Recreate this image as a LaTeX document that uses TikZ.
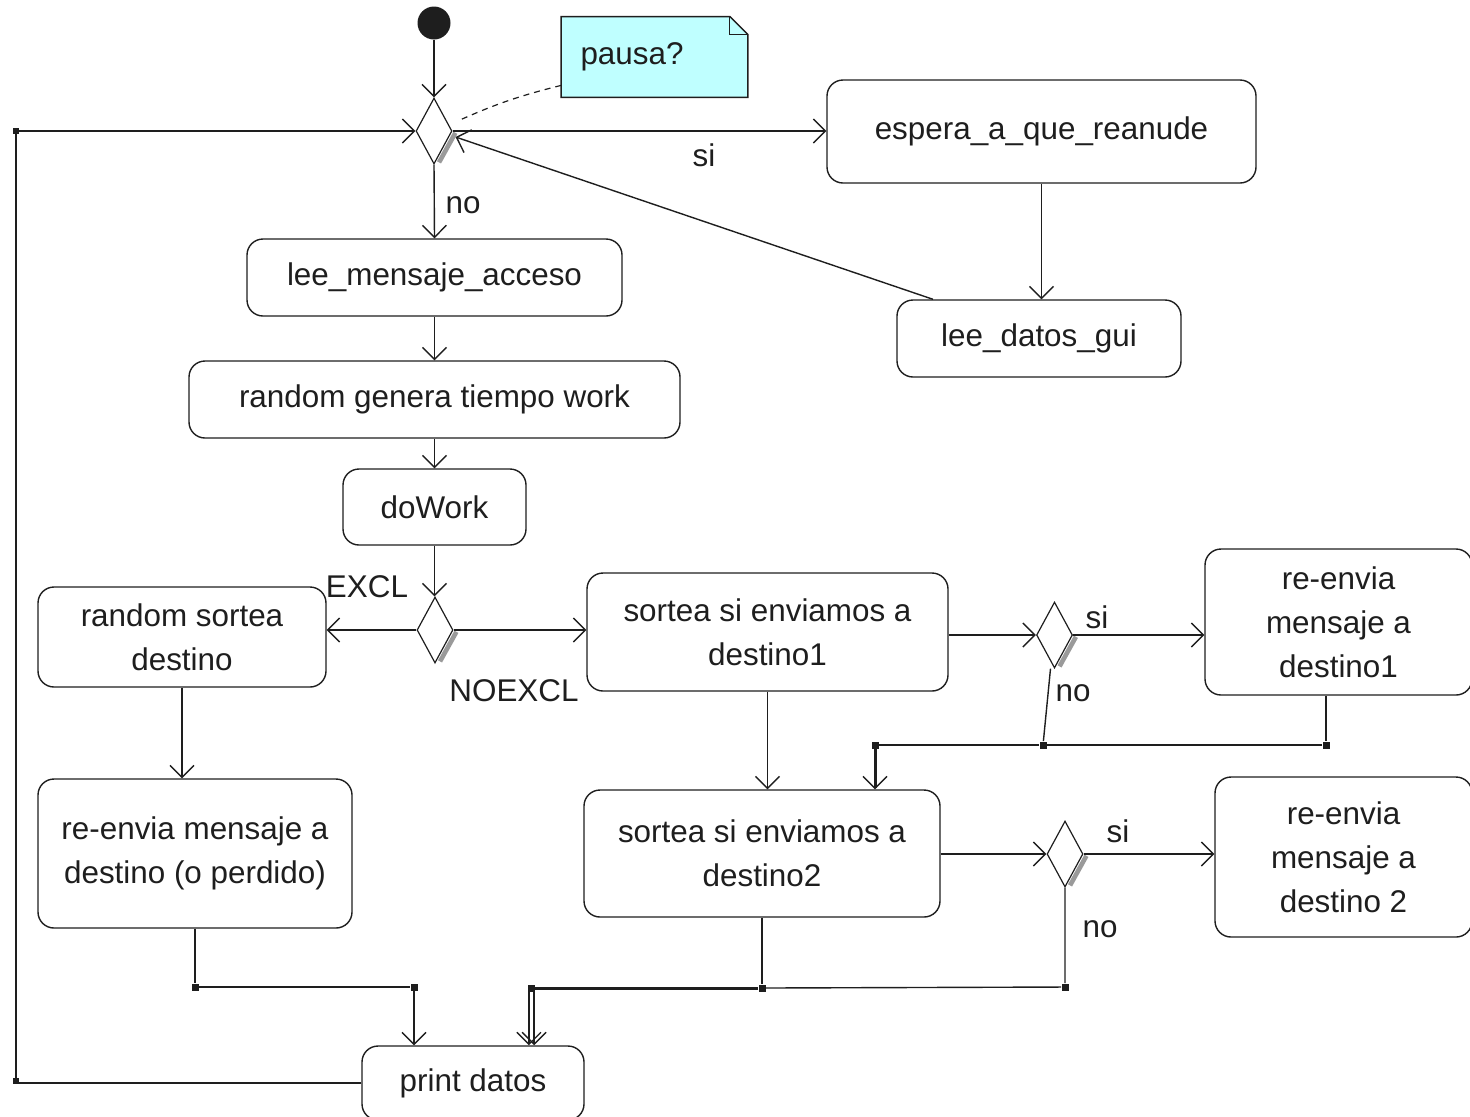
\documentclass[tikz,border=0pt]{standalone}
\usepackage{fontspec}
\setmainfont{Liberation Sans}
\usetikzlibrary{arrows.meta,shapes.geometric,calc,backgrounds}
\definecolor{ink}{HTML}{1E1E1E}
\definecolor{notefill}{HTML}{BFFFFF}
\definecolor{dropgray}{HTML}{9A9A9A}

% gray drop shadow along the lower-right edge of a decision diamond
\newcommand\decshadow[1]{%
  \begin{scope}[on background layer]
  \draw[draw=dropgray, line width=2.3pt]
    ([shift={(1.4pt,-0.9pt)}]#1.east) -- ([shift={(1.4pt,-0.9pt)}]$(#1.east)!0.88!(#1.south)$);
  \end{scope}}

\begin{document}
\begin{tikzpicture}[x=0.5pt,y=-0.5pt,
  every node/.style={font=\fontsize{15.7}{22}\selectfont, text=ink},
  act/.style={draw=ink, line width=0.7pt, rounded corners=8pt, align=center, inner sep=0pt,
              fill=white},
  choice/.style={draw=ink, line width=0.6pt, diamond, inner sep=0pt, fill=white,
                 minimum width=18pt, minimum height=33pt},
  tip/.style={-{Straight Barb[length=6pt,width=12pt,line width=0.7pt]}},
  flow/.style={draw=ink, line width=0.7pt, tip},
  wire/.style={draw=ink, line width=0.7pt},
  heavy/.style={draw=ink, line width=1.5pt},
  joint/.style={fill=ink, minimum size=3.5pt, inner sep=0pt},
  lbl/.style={inner sep=0pt}
]
\useasboundingbox (0,0) rectangle (1470,1116);

% ---------- nodes ----------
\node[circle, fill=ink, minimum size=16.5pt, inner sep=0pt] (start) at (434,23) {};
\node[choice] (d1) at (434,131) {};
\decshadow{d1}

\node[minimum height=40pt, text width=74pt, inner xsep=9.5pt, inner ysep=0pt, align=left]
  (note) at (654.5,57) {pausa?};
\begin{scope}[on background layer]
  \draw[ink, line width=0.7pt, fill=notefill]
    (note.north west) -- ([xshift=-9pt]note.north east) -- ([yshift=-9pt]note.north east)
    -- (note.south east) -- (note.south west) -- cycle;
\end{scope}
\draw[ink, line width=0.5pt] ([xshift=-9pt]note.north east) |- ([yshift=-9pt]note.north east);

\node[act, minimum width=214.5pt, minimum height=51.5pt] (espera) at (1041.5,131.5) {espera\_a\_que\_reanude};
\node[act, minimum width=142pt, minimum height=38.5pt] (gui) at (1039,338.5) {lee\_datos\_gui};
\node[act, minimum width=187.5pt, minimum height=38.5pt] (acceso) at (434.5,277.5) {lee\_mensaje\_acceso};
\node[act, minimum width=245.5pt, minimum height=38.5pt] (tiempo) at (434.5,399.5) {random genera tiempo work};
\node[act, minimum width=91.5pt, minimum height=38pt] (work) at (434.5,507) {doWork};

\node[choice] (d2) at (435,630) {};
\decshadow{d2}
\node[act, minimum width=144pt, minimum height=50pt] (sortea) at (182,637) {random sortea\\destino};
\node[act, minimum width=180.5pt, minimum height=59pt] (dest1) at (767.5,632) {sortea si enviamos a\\destino1};
\node[choice] (d3) at (1054.5,635) {};
\decshadow{d3}
\node[act, minimum width=133.5pt, minimum height=73pt] (env1) at (1338.5,622) {re-envia\\mensaje a\\destino1};

\node[act, minimum width=178pt, minimum height=63.5pt] (dest2) at (762,853.5) {sortea si enviamos a\\destino2};
\node[choice] (d4) at (1065,854) {};
\decshadow{d4}
\node[act, minimum width=128.5pt, minimum height=80pt] (env2) at (1343.5,857) {re-envia\\mensaje a\\destino 2};
\node[act, minimum width=157pt, minimum height=74.5pt] (perdido) at (195,853.5) {re-envia mensaje a\\destino (o perdido)};
\node[act, minimum width=111pt, minimum height=37pt] (print) at (473,1083) {print datos};

% ---------- junction points ----------
\node[joint] (j1) at (1043,745) {};
\node[joint] (j2) at (1326,745) {};
\node[joint] (j3) at (875,745) {};
\node[joint] (j4) at (1065,987) {};
\node[joint] (j5) at (762,988) {};
\node[joint] (j6) at (531.5,988) {};
\node[joint] (j7) at (195,987) {};
\node[joint] (j8) at (414,987) {};
\node[joint, minimum size=3pt] (j9) at (16,1081) {};
\node[joint, minimum size=3pt] (j10) at (16,131) {};

% ---------- labels ----------
\node[lbl] (lsi1) at (704,155) {si};
\node[lbl] (lno1) at (463,205) {no};
\node[lbl] (lexcl) at (367,587) {EXCL};
\node[lbl] (lnoexcl) at (514,691) {NOEXCL};
\node[lbl] (lsi3) at (1097,617) {si};
\node[lbl] (lno3) at (1073,693) {no};
\node[lbl] (lsi4) at (1118,831) {si};
\node[lbl] (lno4) at (1100,929) {no};

% ---------- connectors ----------
\draw[ink, line width=0.6pt, dash pattern=on 3pt off 2.5pt]
  ([yshift=6pt]note.south west) to[bend right=5] ([shift={(2.5pt,5pt)}]d1.east);

\draw[flow] (start) -- (d1.north);
\draw[flow] (d1.east) -- (d1.east -| espera.west);
\draw[flow] (espera.south) -- (espera.south |- gui.north);
\draw[flow] ([xshift=-53pt]gui.north) -- ([shift={(1.5pt,-3pt)}]d1.east);
\draw[flow] (d1.south) -- (acceso.north);
\draw[flow] (acceso.south) -- (tiempo.north);
\draw[flow] (tiempo.south) -- (work.north);
\draw[flow] (work.south) -- (work.south |- d2.north);
\draw[flow] (d2.west) -- (d2.west -| sortea.east);
\draw[flow] (d2.east) -- (d2.east -| dest1.west);

\draw[flow] (d3.west -| dest1.east) -- (d3.west);
\draw[flow] (d3.east) -- (d3.east -| env1.west);
\draw[wire] ([xshift=-2pt]d3.south) -- (j1);
\draw[wire] (env1.south -| j2) -- (j2) -- (j1) -- (j3);
\draw[heavy, tip] (j3) -- (j3 |- dest2.north);
\draw[flow] (dest1.south) -- (dest1.south |- dest2.north);

\draw[flow] (d4.west -| dest2.east) -- (d4.west);
\draw[flow] (d4.east) -- (d4.east -| env2.west);
\draw[wire] (d4.south) -- (j4) -- (j5);
\draw[wire] (dest2.south) -- (j5);
\draw[heavy] (j5) -- (j6);
\draw[flow] ([xshift=-1.3pt]j6.south) -- ([xshift=-1.3pt]j6 |- print.north);
\draw[flow] ([xshift=1.3pt]j6.south) -- ([xshift=1.3pt]j6 |- print.north);

\draw[flow] (sortea.south) -- (sortea.south |- perdido.north);
\draw[wire] (perdido.south) -- (j7) -- (j8);
\draw[flow] (j8) -- (j8 |- print.north);

\draw[wire] (print.west -| j9) -- (j9) -- (j10);
\draw[wire] (print.west) -- (print.west -| j9);
\draw[flow] (j10) -- (d1.west);
\end{tikzpicture}
\end{document}
